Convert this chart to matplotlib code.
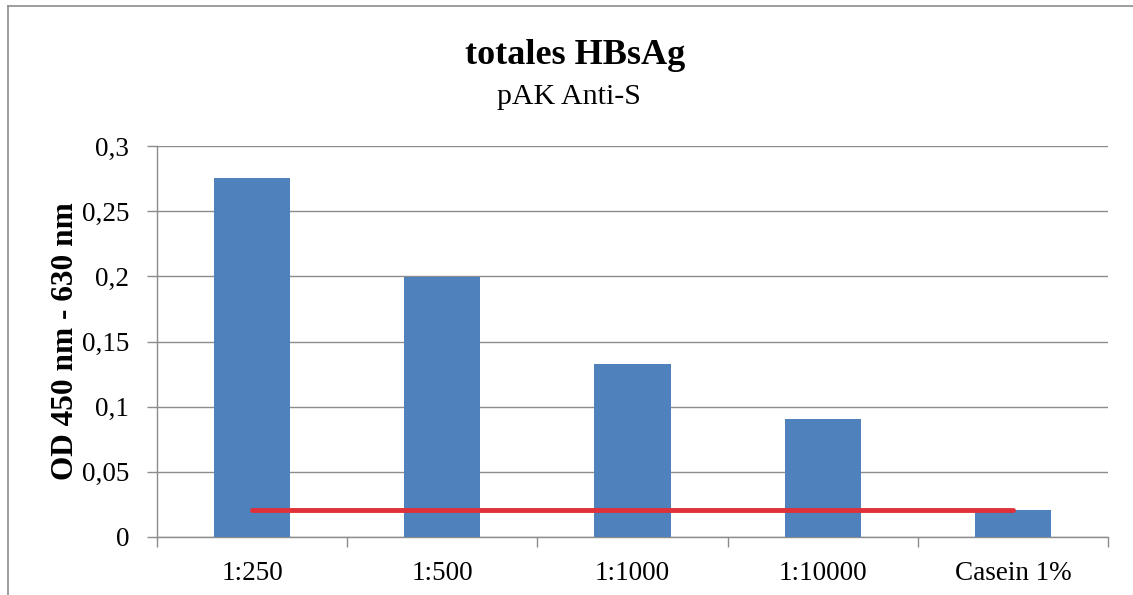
import numpy as np
import matplotlib.pyplot as plt
from matplotlib.ticker import FuncFormatter
from matplotlib.lines import Line2D

plt.rcParams['font.family'] = ['Liberation Serif', 'DejaVu Serif']

# Dilution series, measured optical density
categories = ['1:250', '1:500', '1:1000', '1:10000', 'Casein 1%']
od_values = [0.2755, 0.1995, 0.1325, 0.0905, 0.0205]
cutoff = 0.0205

y_ticks = [0, 0.05, 0.1, 0.15, 0.2, 0.25, 0.3]

bar_color = '#4F81BD'
grid_color = '#8C8C8C'

fig = plt.figure(figsize=(11.33, 5.95), dpi=100)
ax = fig.add_axes([157 / 1133, 1 - 537 / 595, (1108 - 157) / 1133, (537 - 146) / 595])

x = np.arange(len(categories))
ax.bar(x, od_values, width=0.4, color=bar_color, zorder=3)

# cutoff line from first to last category
ax.plot([x[0], x[-1]], [cutoff, cutoff], color='#E0303A', linewidth=3.5,
        solid_capstyle='round', zorder=4)

ax.set_xlim(-0.5, len(categories) - 0.5)
ax.set_ylim(0, 0.3)
ax.set_yticks(y_ticks)
ax.yaxis.set_major_formatter(FuncFormatter(lambda v, p: f'{v:g}'.replace('.', ',')))
ax.set_xticks(x)
ax.set_xticklabels(categories)
ax.set_xticks(np.arange(len(categories) + 1) - 0.5, minor=True)

ax.tick_params(axis='x', which='major', length=0, pad=17, labelsize=19.5)
ax.tick_params(axis='x', which='minor', length=7, color=grid_color, width=1)
ax.tick_params(axis='y', length=7, color=grid_color, width=1, pad=13, labelsize=19.5)

ax.grid(axis='y', color=grid_color, linewidth=1, zorder=0)
for side in ['top', 'right']:
    ax.spines[side].set_visible(False)
for side in ['left', 'bottom']:
    ax.spines[side].set_color(grid_color)
    ax.spines[side].set_linewidth(1)

ax.set_ylabel('OD 450 nm - 630 nm', fontsize=22.5, fontweight='bold', labelpad=1)

fig.text(575 / 1133, 1 - 56 / 595, 'totales HBsAg', ha='center', va='center',
         fontsize=26, fontweight='bold')
fig.text(569 / 1133, 1 - 97 / 595, 'pAK Anti-S', ha='center', va='center',
         fontsize=21.5)

# outer chart frame (left and top edges visible)
fig.add_artist(Line2D([8 / 1133, 8 / 1133], [0, 1 - 6 / 595], transform=fig.transFigure,
                      color='#8C8C8C', linewidth=1.2))
fig.add_artist(Line2D([8 / 1133, 1], [1 - 6 / 595, 1 - 6 / 595], transform=fig.transFigure,
                      color='#8C8C8C', linewidth=1.2))

fig.savefig('out.png', dpi=100)
